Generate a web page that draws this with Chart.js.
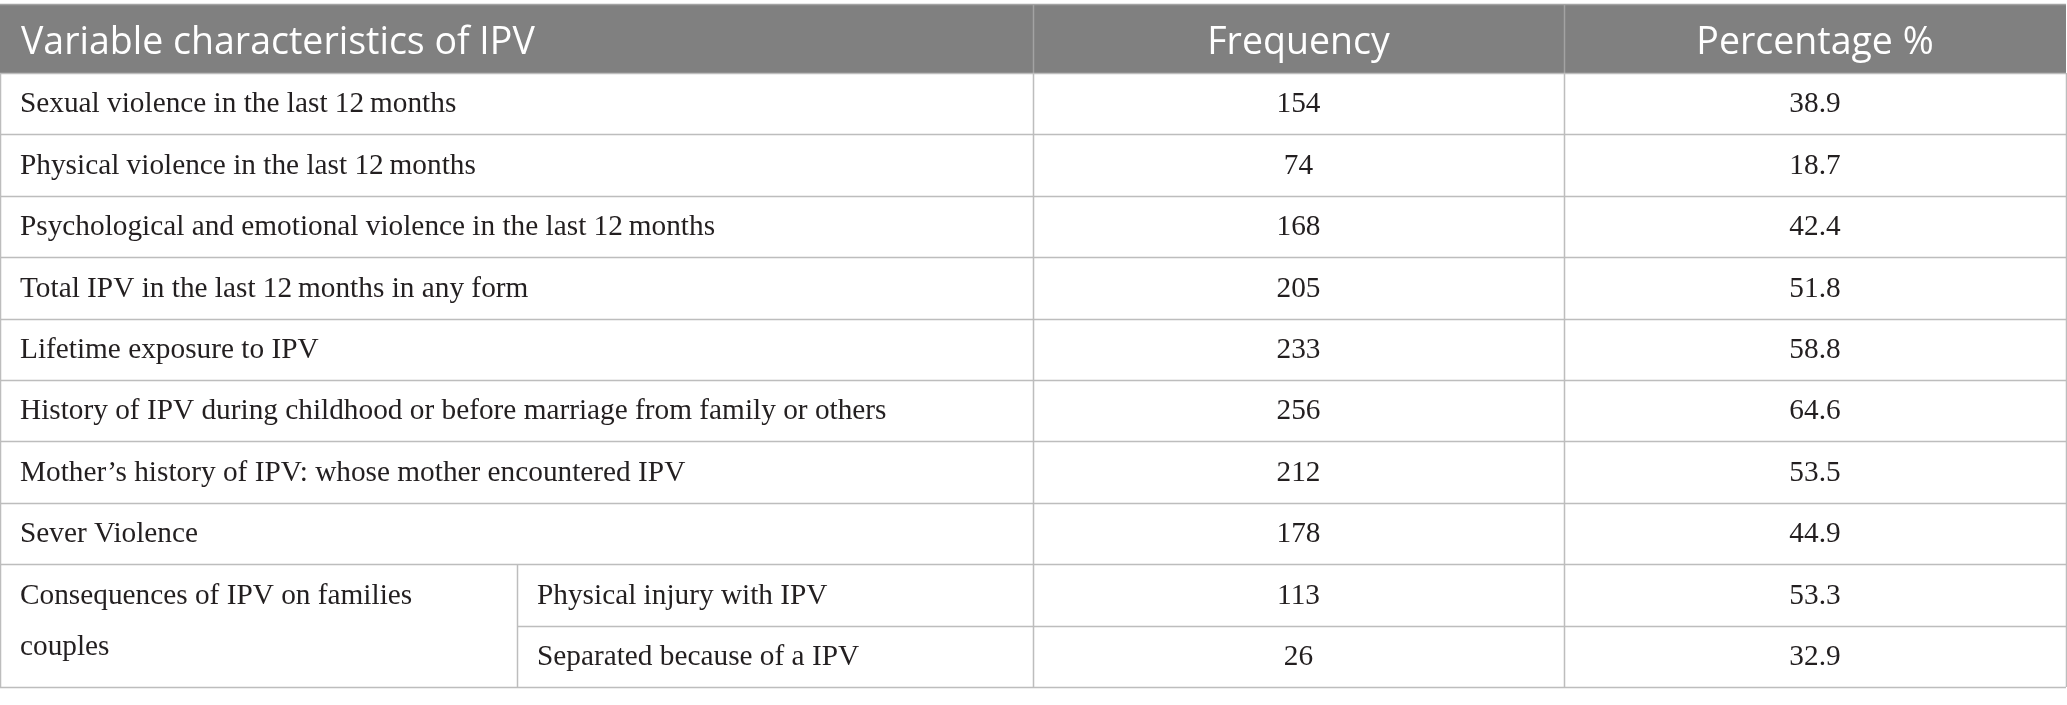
<!DOCTYPE html>
<html>
<head>
<meta charset="utf-8">
<script src="https://cdn.jsdelivr.net/npm/chart.js@4.4.0/dist/chart.umd.min.js"></script>
<style>
  html, body { margin: 0; padding: 0; background: #ffffff; }
  #wrap { width: 2067px; height: 705px; }
</style>
</head>
<body>
<div id="wrap"><canvas id="ipvTable"></canvas></div>
<script>
// Table content
const headers = ["Variable characteristics of IPV", "Frequency", "Percentage %"];
const rowLabels = [
  "Sexual violence in the last 12\u2009months",
  "Physical violence in the last 12\u2009months",
  "Psychological and emotional violence in the last 12\u2009months",
  "Total IPV in the last 12\u2009months in any form",
  "Lifetime exposure to IPV",
  "History of IPV during childhood or before marriage from family or others",
  "Mother\u2019s history of IPV: whose mother encountered IPV",
  "Sever Violence"
];
const groupLabel = ["Consequences of IPV on families", "couples"];
const subLabels = ["Physical injury with IPV", "Separated because of a IPV"];
const frequencies = [154, 74, 168, 205, 233, 256, 212, 178, 113, 26];
const percentages = [38.9, 18.7, 42.4, 51.8, 58.8, 64.6, 53.5, 44.9, 53.3, 32.9];

// Layout (x in table pixels, y in row units; header sits above row 0)
const colEdges = [0, 517, 1033, 1564, 2066];
const headerUnits = 1.124;
const groupLineUnits = [8.53, 9.36];
const cellPad = 20;

const headerBg = "#808080";
const headerLine = "#a3a3a3";
const gridLine = "#bdbdbd";
const bodyText = "#231f20";
const headerFont = "37.5px 'Open Sans'";
const bodyFont = "29.3px 'Liberation Serif'";

const tablePlugin = {
  id: "tableCells",
  afterDraw(chart) {
    const { ctx } = chart;
    const xs = chart.scales.x, ys = chart.scales.y;
    const X = v => xs.getPixelForValue(v);
    const Y = v => ys.getPixelForValue(v);
    const nRows = frequencies.length;
    const mid = i => Y(i + 0.5) + 1;

    ctx.save();

    // header band
    ctx.fillStyle = headerBg;
    ctx.fillRect(X(colEdges[0]), Y(-headerUnits), X(colEdges[4]) - X(colEdges[0]), Y(0) - Y(-headerUnits));

    const hline = (v, x0, x1, color) => {
      ctx.strokeStyle = color;
      ctx.lineWidth = 1.5;
      ctx.beginPath();
      ctx.moveTo(X(x0), Math.round(Y(v)) + 0.5);
      ctx.lineTo(X(x1), Math.round(Y(v)) + 0.5);
      ctx.stroke();
    };
    const vline = (c, y0, y1, color) => {
      ctx.strokeStyle = color;
      ctx.lineWidth = 1.5;
      ctx.beginPath();
      ctx.moveTo(Math.round(X(c)) + 0.5, Y(y0));
      ctx.lineTo(Math.round(X(c)) + 0.5, Y(y1));
      ctx.stroke();
    };

    // header borders
    hline(-headerUnits, colEdges[0], colEdges[4], headerLine);
    vline(colEdges[2], -headerUnits, 0, headerLine);
    vline(colEdges[3], -headerUnits, 0, headerLine);

    // body grid
    for (let r = 0; r <= nRows; r++) {
      if (r === nRows - 1) hline(r, colEdges[1], colEdges[4], gridLine);
      else hline(r, colEdges[0], colEdges[4], gridLine);
    }
    vline(colEdges[0], 0, nRows, gridLine);
    vline(colEdges[1], nRows - 2, nRows, gridLine);
    vline(colEdges[2], 0, nRows, gridLine);
    vline(colEdges[3], 0, nRows, gridLine);
    vline(colEdges[4], 0, nRows, gridLine);

    // header text
    ctx.fillStyle = "#ffffff";
    ctx.font = headerFont;
    ctx.textBaseline = "middle";
    const hy = Y(-headerUnits / 2) + 5;
    ctx.textAlign = "left";
    ctx.fillText(headers[0], X(colEdges[0]) + cellPad + 1, hy);
    ctx.textAlign = "center";
    ctx.fillText(headers[1], (X(colEdges[2]) + X(colEdges[3])) / 2, hy);
    ctx.fillText(headers[2], (X(colEdges[3]) + X(colEdges[4])) / 2, hy);

    // body text
    ctx.fillStyle = bodyText;
    ctx.font = bodyFont;
    ctx.textAlign = "left";
    rowLabels.forEach((label, i) => ctx.fillText(label, X(colEdges[0]) + cellPad, mid(i)));
    groupLabel.forEach((line, k) => ctx.fillText(line, X(colEdges[0]) + cellPad, Y(groupLineUnits[k])));
    subLabels.forEach((label, k) => ctx.fillText(label, X(colEdges[1]) + cellPad, mid(rowLabels.length + k)));

    ctx.textAlign = "center";
    const fx = (X(colEdges[2]) + X(colEdges[3])) / 2;
    const px = (X(colEdges[3]) + X(colEdges[4])) / 2;
    frequencies.forEach((v, i) => ctx.fillText(String(v), fx, mid(i)));
    percentages.forEach((v, i) => ctx.fillText(v.toFixed(1), px, mid(i)));

    ctx.restore();
  }
};

new Chart(document.getElementById("ipvTable"), {
  type: "scatter",
  data: { datasets: [] },
  options: {
    responsive: true,
    maintainAspectRatio: false,
    animation: false,
    layout: { padding: { top: 4, bottom: 18, left: 0, right: 0 } },
    scales: {
      x: { type: "linear", display: false, min: 0, max: 2067 },
      y: { type: "linear", display: false, reverse: true, min: -headerUnits, max: frequencies.length }
    },
    plugins: {
      legend: { display: false },
      tooltip: { enabled: false }
    }
  },
  plugins: [tablePlugin]
});
</script>
</body>
</html>
